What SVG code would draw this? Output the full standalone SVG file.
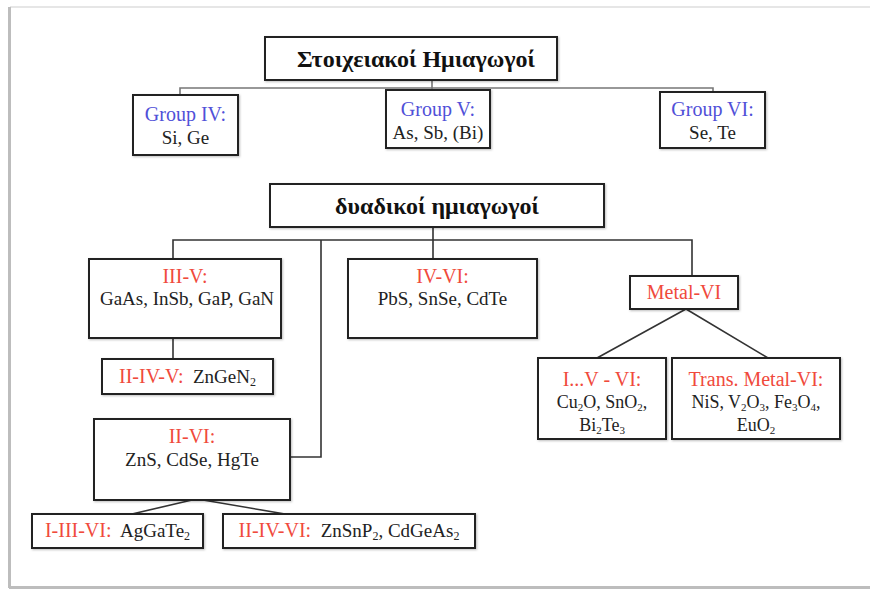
<svg xmlns="http://www.w3.org/2000/svg" width="870" height="590" viewBox="0 0 870 590">
<defs>
<style>
.box{fill:#fff;stroke:#222;stroke-width:2}
.ln{fill:none;stroke:#333;stroke-width:1.6}
.lt{fill:none;stroke:#777;stroke-width:1.6}
text{font-family:"Liberation Serif","Times New Roman",serif;text-anchor:middle;fill:#222;font-size:19px}
.hd{font-weight:bold;font-size:24px;fill:#111}
.r{fill:#f04a3c;font-size:20px}
.b{fill:#5050d8;font-size:20px}
.s{font-size:12px}
.sm{font-size:18px}
.sm .s{font-size:11px}
</style>
<filter id="sh" x="-5%" y="-5%" width="110%" height="120%">
<feDropShadow dx="1" dy="1" stdDeviation="0.8" flood-color="#000" flood-opacity="0.25"/>
</filter>
</defs>
<rect x="0" y="0" width="870" height="590" fill="#fff"/>
<line x1="10" y1="7" x2="870" y2="7" stroke="#e6e6e6" stroke-width="2"/>
<line x1="9.5" y1="7" x2="9.5" y2="588" stroke="#bdbdbd" stroke-width="3"/>
<line x1="9" y1="587.5" x2="870" y2="587.5" stroke="#bdbdbd" stroke-width="3"/>

<g id="connectors">
<path class="lt" d="M432 80V90M180 95V88H713V92"/>
<path class="ln" d="M433 227V259M173 259V240H692V276M321 240V457H290"/>
<path class="ln" d="M173 338V359"/>
<path class="ln" d="M686 309L597 358M686 309L768 358"/>
<path class="ln" d="M192 500L132 514M203 500L285 514"/>
</g>

<g id="title">
<rect class="box" x="265" y="37" width="292" height="43" filter="url(#sh)"/>
<text class="hd" x="416" y="67">Στοιχειακοί Ημιαγωγοί</text>
</g>
<g id="group4">
<rect class="box" x="133" y="95" width="105" height="60" filter="url(#sh)"/>
<text class="b" x="185.5" y="121">Group IV:</text>
<text x="185.5" y="144">Si, Ge</text>
</g>
<g id="group5">
<rect class="box" x="386" y="90" width="104" height="58" filter="url(#sh)"/>
<text class="b" x="438" y="116">Group V:</text>
<text x="438" y="139">As, Sb, (Bi)</text>
</g>
<g id="group6">
<rect class="box" x="660" y="92" width="105" height="56" filter="url(#sh)"/>
<text class="b" x="712.5" y="116">Group VI:</text>
<text x="712.5" y="139">Se, Te</text>
</g>

<g id="binary">
<rect class="box" x="270" y="184" width="334" height="43" filter="url(#sh)"/>
<text class="hd" x="437" y="214">δυαδικοί ημιαγωγοί</text>
</g>
<g id="iii-v">
<rect class="box" x="89" y="259" width="192" height="79" filter="url(#sh)"/>
<text class="r" x="185" y="283">III-V:</text>
<text x="187" y="305">GaAs, InSb, GaP, GaN</text>
</g>
<g id="iv-vi">
<rect class="box" x="348" y="259" width="189" height="79" filter="url(#sh)"/>
<text class="r" x="442.5" y="283">IV-VI:</text>
<text x="442.5" y="305">PbS, SnSe, CdTe</text>
</g>
<g id="metal-vi">
<rect class="box" x="630" y="276" width="108" height="33" filter="url(#sh)"/>
<text class="r" x="684" y="299">Metal-VI</text>
</g>
<g id="ii-iv-v">
<rect class="box" x="102" y="359" width="171" height="35" filter="url(#sh)"/>
<text x="187.5" y="383"><tspan class="r">II-IV-V:</tspan>&#160; ZnGeN<tspan class="s" dy="3">2</tspan></text>
</g>
<g id="i-v-vi">
<rect class="box" x="538" y="358" width="128" height="81" filter="url(#sh)"/>
<text class="r" x="602" y="386">I...V - VI:</text>
<text class="sm" x="602" y="408">Cu<tspan class="s" dy="3">2</tspan><tspan dy="-3">O, SnO</tspan><tspan class="s" dy="3">2</tspan><tspan dy="-3">,</tspan></text>
<text class="sm" x="602" y="431">Bi<tspan class="s" dy="3">2</tspan><tspan dy="-3">Te</tspan><tspan class="s" dy="3">3</tspan></text>
</g>
<g id="trans-metal-vi">
<rect class="box" x="672" y="358" width="168" height="81" filter="url(#sh)"/>
<text class="r" x="756" y="386">Trans. Metal-VI:</text>
<text class="sm" x="756" y="408">NiS, V<tspan class="s" dy="3">2</tspan><tspan dy="-3">O</tspan><tspan class="s" dy="3">3</tspan><tspan dy="-3">, Fe</tspan><tspan class="s" dy="3">3</tspan><tspan dy="-3">O</tspan><tspan class="s" dy="3">4</tspan><tspan dy="-3">,</tspan></text>
<text class="sm" x="756" y="431">EuO<tspan class="s" dy="3">2</tspan></text>
</g>
<g id="ii-vi">
<rect class="box" x="94" y="419" width="196" height="81" filter="url(#sh)"/>
<text class="r" x="192" y="443">II-VI:</text>
<text x="192" y="466">ZnS, CdSe, HgTe</text>
</g>
<g id="i-iii-vi">
<rect class="box" x="32" y="514" width="171" height="34" filter="url(#sh)"/>
<text x="117.5" y="537"><tspan class="r">I-III-VI:</tspan>&#160; AgGaTe<tspan class="s" dy="3">2</tspan></text>
</g>
<g id="ii-iv-vi">
<rect class="box" x="223" y="514" width="252" height="34" filter="url(#sh)"/>
<text x="349" y="537"><tspan class="r">II-IV-VI:</tspan>&#160; ZnSnP<tspan class="s" dy="3">2</tspan><tspan dy="-3">, CdGeAs</tspan><tspan class="s" dy="3">2</tspan></text>
</g>
</svg>
